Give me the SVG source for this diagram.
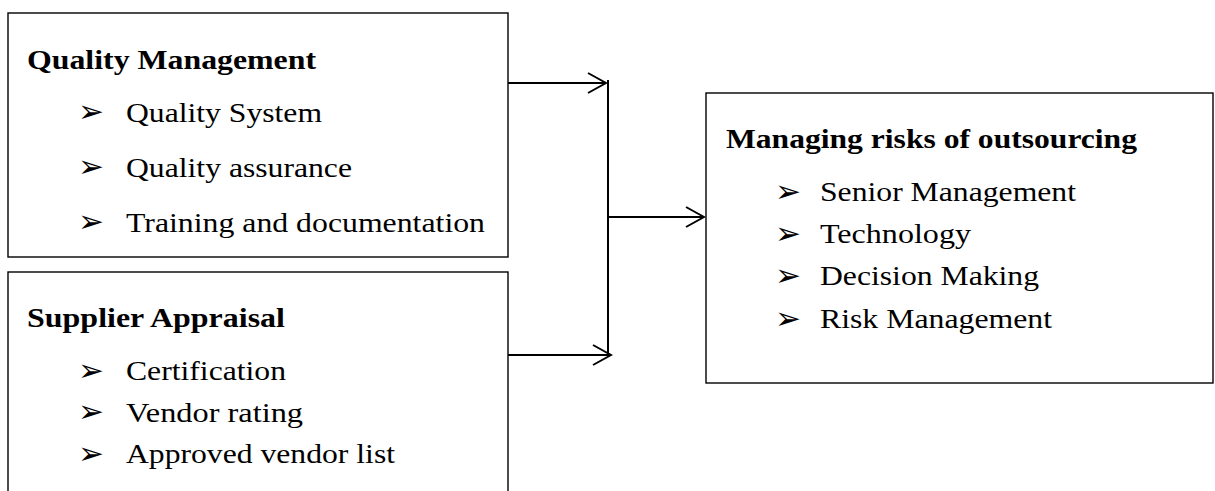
<svg xmlns="http://www.w3.org/2000/svg" width="1215" height="491" viewBox="0 0 1215 491">
  <style>
    .box { fill: #fff; stroke: #000; stroke-width: 1.4; }
    .title { font-weight: bold; font-size: 28px; fill: #000; }
    .item { font-size: 28px; fill: #000; }
    .bul { font-size: 31px; fill: #000; }
    .conn { fill: none; stroke: #000; stroke-width: 2; }
  </style>
  <defs>
    <marker id="arr" markerUnits="userSpaceOnUse" viewBox="-20 -12 22 24" refX="0" refY="0" markerWidth="22" markerHeight="24" orient="auto">
      <path d="M-18,-10 L0,0 L-18,10" fill="none" stroke="#000" stroke-width="2"/>
    </marker>
  </defs>
  <rect width="1215" height="491" fill="#fff"/>

  <g id="quality-management" font-family="Liberation Serif">
    <rect class="box" x="8" y="13" width="500" height="244"/>
    <text class="title" x="27" y="69" textLength="289" lengthAdjust="spacingAndGlyphs">Quality Management</text>
    <text class="bul" font-family="DejaVu Sans" x="78" y="122">➢</text>
    <text class="item" x="126" y="121.5" textLength="196" lengthAdjust="spacingAndGlyphs">Quality System</text>
    <text class="bul" font-family="DejaVu Sans" x="78" y="177">➢</text>
    <text class="item" x="126" y="176.5" textLength="226" lengthAdjust="spacingAndGlyphs">Quality assurance</text>
    <text class="bul" font-family="DejaVu Sans" x="78" y="232">➢</text>
    <text class="item" x="126" y="231.5" textLength="359" lengthAdjust="spacingAndGlyphs">Training and documentation</text>
  </g>

  <g id="supplier-appraisal" font-family="Liberation Serif">
    <rect class="box" x="8" y="272" width="500" height="240"/>
    <text class="title" x="27" y="326.5" textLength="258" lengthAdjust="spacingAndGlyphs">Supplier Appraisal</text>
    <text class="bul" font-family="DejaVu Sans" x="78" y="380.5">➢</text>
    <text class="item" x="126" y="380" textLength="160" lengthAdjust="spacingAndGlyphs">Certification</text>
    <text class="bul" font-family="DejaVu Sans" x="78" y="422">➢</text>
    <text class="item" x="126" y="421.5" textLength="177" lengthAdjust="spacingAndGlyphs">Vendor rating</text>
    <text class="bul" font-family="DejaVu Sans" x="78" y="463.5">➢</text>
    <text class="item" x="126" y="463" textLength="269" lengthAdjust="spacingAndGlyphs">Approved vendor list</text>
  </g>

  <g id="managing-risks" font-family="Liberation Serif">
    <rect class="box" x="706" y="93" width="507" height="290"/>
    <text class="title" x="726" y="148" textLength="411" lengthAdjust="spacingAndGlyphs">Managing risks of outsourcing</text>
    <text class="bul" font-family="DejaVu Sans" x="775" y="201.5">➢</text>
    <text class="item" x="820" y="201" textLength="256" lengthAdjust="spacingAndGlyphs">Senior Management</text>
    <text class="bul" font-family="DejaVu Sans" x="775" y="243.5">➢</text>
    <text class="item" x="820" y="243" textLength="151" lengthAdjust="spacingAndGlyphs">Technology</text>
    <text class="bul" font-family="DejaVu Sans" x="775" y="285.5">➢</text>
    <text class="item" x="820" y="285" textLength="219" lengthAdjust="spacingAndGlyphs">Decision Making</text>
    <text class="bul" font-family="DejaVu Sans" x="775" y="328.5">➢</text>
    <text class="item" x="820" y="328" textLength="232" lengthAdjust="spacingAndGlyphs">Risk Management</text>
  </g>

  <g id="connectors">
    <line class="conn" x1="508" y1="83" x2="606" y2="83" marker-end="url(#arr)"/>
    <line class="conn" x1="508" y1="355" x2="611" y2="355" marker-end="url(#arr)"/>
    <line class="conn" x1="608" y1="80" x2="608" y2="356"/>
    <line class="conn" x1="608" y1="217" x2="704" y2="217" marker-end="url(#arr)"/>
  </g>
</svg>
